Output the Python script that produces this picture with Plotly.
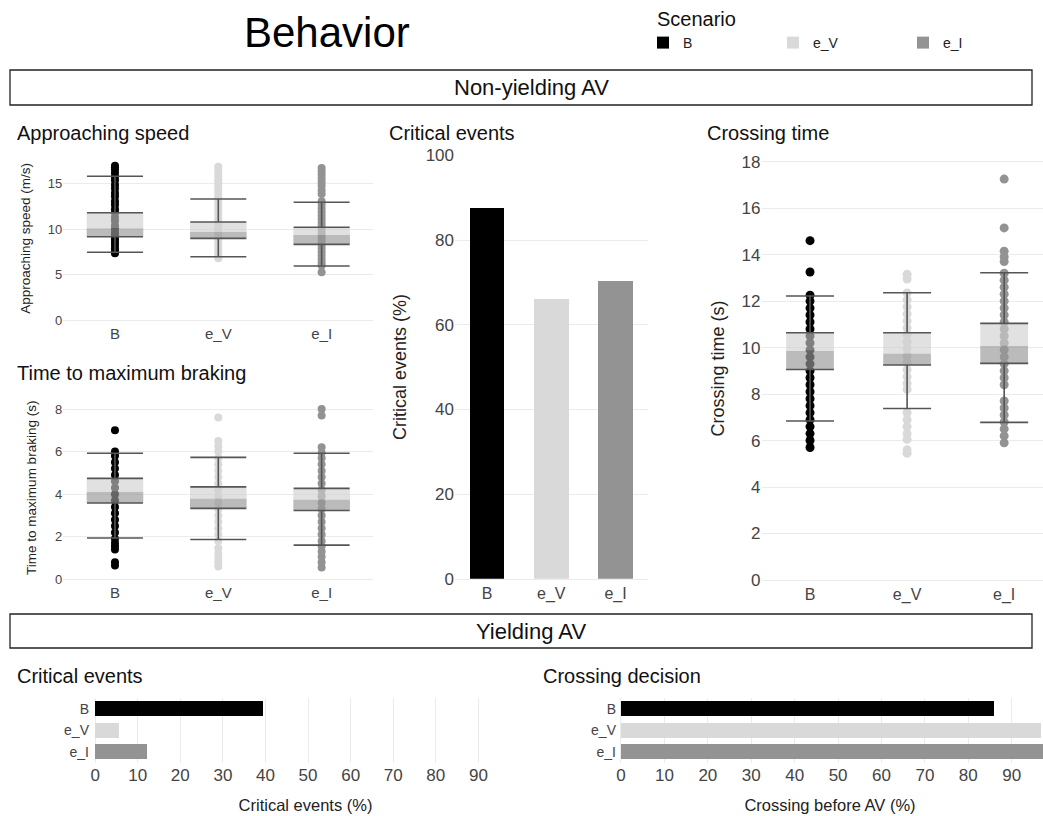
import plotly.graph_objects as go

# ---------------- data ----------------
scenarios = ["B", "e_V", "e_I"]

# Approaching speed (m/s) box statistics
speed_lower = [7.46, 6.98, 5.95]
speed_q1 = [9.18, 9.00, 8.34]
speed_median = [10.10, 9.74, 9.37]
speed_q3 = [11.83, 10.80, 10.22]
speed_upper = [15.85, 13.34, 12.98]
speed_points_B = [7.35, 7.6, 7.9, 8.3, 8.6, 8.9, 9.3, 9.6, 10.0, 10.4, 10.9, 11.3, 11.8, 12.2,
                  12.7, 13.1, 13.6, 14.0, 14.5, 14.9, 15.4, 15.8, 16.2, 16.6, 16.85, 17.0]
speed_points_eV = [6.8, 7.1, 7.5, 7.9, 8.3, 8.7, 9.1, 9.5, 9.9, 10.3, 10.7, 11.1, 11.5, 11.9,
                   12.3, 12.7, 13.1, 13.5, 13.9, 14.3, 14.7, 15.1, 15.4, 15.8, 16.2, 16.6, 16.9]
speed_points_eI = [5.25, 6.0, 6.3, 6.7, 7.1, 7.5, 7.9, 8.3, 8.7, 9.1, 9.5, 9.9, 10.3, 10.7, 11.1,
                   11.5, 11.9, 12.3, 12.7, 13.1, 13.9, 14.3, 14.8, 15.2, 15.6, 16.0, 16.4, 16.75]

# Time to maximum braking (s) box statistics
brake_lower = [1.94, 1.87, 1.60]
brake_q1 = [3.58, 3.33, 3.23]
brake_median = [4.11, 3.80, 3.75]
brake_q3 = [4.74, 4.34, 4.27]
brake_upper = [5.92, 5.73, 5.92]
brake_points_B = [0.65, 0.8, 1.4, 1.55, 1.7, 1.9, 2.2, 2.5, 2.8, 3.1, 3.4, 3.7, 4.0, 4.3, 4.6,
                  4.9, 5.2, 5.5, 5.8, 6.0, 7.0]
brake_points_eV = [0.6, 0.8, 1.0, 1.2, 1.45, 1.8, 2.1, 2.4, 2.7, 3.0, 3.3, 3.6, 3.9, 4.2, 4.5,
                   4.8, 5.1, 5.4, 5.7, 6.0, 6.25, 6.5, 7.6]
brake_points_eI = [0.55, 0.8, 1.05, 1.3, 1.55, 1.8, 2.1, 2.4, 2.7, 3.0, 3.3, 3.6, 3.9, 4.2, 4.5,
                   4.8, 5.1, 5.4, 5.7, 5.95, 6.2, 7.7, 8.0]

# Crossing time (s) box statistics
cross_lower = [6.84, 7.38, 6.78]
cross_q1 = [9.06, 9.25, 9.32]
cross_median = [9.86, 9.75, 10.08]
cross_q3 = [10.64, 10.64, 11.04]
cross_upper = [12.22, 12.36, 13.22]
cross_points_B = [5.7, 6.0, 6.3, 6.6, 6.9, 7.2, 7.5, 7.8, 8.1, 8.4, 8.7, 9.0, 9.3, 9.6, 9.9,
                  10.2, 10.5, 10.8, 11.1, 11.4, 11.7, 12.0, 12.25, 13.25, 14.6]
cross_points_eV = [5.45, 5.6, 6.05, 6.3, 6.6, 6.9, 7.2, 8.2, 8.45, 8.75, 9.05, 9.35, 9.65, 9.95,
                   10.25, 10.55, 10.85, 11.15, 11.45, 11.75, 12.05, 12.35, 12.95, 13.15]
cross_points_eI = [5.9, 6.2, 6.5, 6.8, 7.1, 7.4, 7.7, 8.4, 8.7, 9.0, 9.3, 9.6, 9.9, 10.2, 10.5,
                   10.8, 11.1, 11.4, 11.7, 12.0, 12.3, 12.6, 12.9, 13.2, 13.7, 13.9, 14.15,
                   15.15, 17.25]

# Critical events (%) - non-yielding AV
critical_nonyield = [87.6, 66.0, 70.2]
# Critical events (%) - yielding AV
critical_yield = [39.4, 5.6, 12.1]
# Crossing before AV (%) - yielding AV
crossing_before = [86.0, 96.8, 98.5]

# ---------------- styles ----------------
W, H = 1043, 816
FONT = "Liberation Sans, Arial, sans-serif"
colors = ["#000000", "#d9d9d9", "#939393"]
TICKC = "#444444"
GRID = "#ebebeb"


def px_x(p):
    return p / W


def px_y(p):
    return 1 - p / H


fig = go.Figure()


def add_box_panel(ax, stats, points, hw, cap_px, msize):
    lower, q1, med, q3, upper = stats
    xa, ya = ("x" + ax, "y" + ax) if ax != "1" else ("x", "y")
    # raw points
    for i, pts in enumerate(points):
        fig.add_trace(go.Scatter(
            x=[i] * len(pts), y=pts, mode="markers", xaxis=xa, yaxis=ya,
            marker=dict(color=colors[i], size=msize, line=dict(width=0)),
            showlegend=False, hoverinfo="y"))
    # lower half of box (q1 -> median)
    xs, ys = [], []
    for i in range(len(scenarios)):
        xs += [i - hw, i + hw, i + hw, i - hw, i - hw, None]
        ys += [q1[i], q1[i], med[i], med[i], q1[i], None]
    fig.add_trace(go.Scatter(x=xs, y=ys, fill="toself", mode="lines", xaxis=xa, yaxis=ya,
                             fillcolor="rgba(152,152,152,0.66)", line=dict(width=0),
                             showlegend=False, hoverinfo="skip"))
    # upper half of box (median -> q3)
    xs, ys = [], []
    for i in range(len(scenarios)):
        xs += [i - hw, i + hw, i + hw, i - hw, i - hw, None]
        ys += [med[i], med[i], q3[i], q3[i], med[i], None]
    fig.add_trace(go.Scatter(x=xs, y=ys, fill="toself", mode="lines", xaxis=xa, yaxis=ya,
                             fillcolor="rgba(206,206,206,0.62)", line=dict(width=0),
                             showlegend=False, hoverinfo="skip"))
    idx = list(range(len(scenarios)))
    # upper whisker + q3 line
    fig.add_trace(go.Scatter(
        x=idx, y=q3, mode="markers", xaxis=xa, yaxis=ya,
        marker=dict(size=1, color="rgba(0,0,0,0)"),
        error_y=dict(type="data", symmetric=False,
                     array=[u - q for u, q in zip(upper, q3)], arrayminus=[0] * 3,
                     width=cap_px, thickness=1.6, color="#555555"),
        showlegend=False, hoverinfo="skip"))
    # lower whisker + q1 line
    fig.add_trace(go.Scatter(
        x=idx, y=q1, mode="markers", xaxis=xa, yaxis=ya,
        marker=dict(size=1, color="rgba(0,0,0,0)"),
        error_y=dict(type="data", symmetric=False,
                     array=[0] * 3, arrayminus=[q - l for q, l in zip(q1, lower)],
                     width=cap_px, thickness=1.6, color="#555555"),
        showlegend=False, hoverinfo="skip"))


add_box_panel("1", (speed_lower, speed_q1, speed_median, speed_q3, speed_upper),
              [speed_points_B, speed_points_eV, speed_points_eI], 0.274, 28, 8)
add_box_panel("2", (brake_lower, brake_q1, brake_median, brake_q3, brake_upper),
              [brake_points_B, brake_points_eV, brake_points_eI], 0.274, 28, 8)
add_box_panel("3", (cross_lower, cross_q1, cross_median, cross_q3, cross_upper),
              [cross_points_B, cross_points_eV, cross_points_eI], 0.246, 24, 9)

# middle: critical events (non-yielding)
for i, s in enumerate(scenarios):
    fig.add_trace(go.Bar(x=[i], y=[critical_nonyield[i]], width=0.54, name=s,
                         marker=dict(color=colors[i], line=dict(width=0)),
                         xaxis="x4", yaxis="y4", showlegend=True, legendgroup=s))
# bottom left: critical events (yielding)
for i, s in enumerate(scenarios):
    fig.add_trace(go.Bar(y=[i], x=[critical_yield[i]], width=0.7, orientation="h", name=s,
                         marker=dict(color=colors[i], line=dict(width=0)),
                         xaxis="x5", yaxis="y5", showlegend=False, legendgroup=s))
# bottom right: crossing decision
for i, s in enumerate(scenarios):
    fig.add_trace(go.Bar(y=[i], x=[crossing_before[i]], width=0.7, orientation="h", name=s,
                         marker=dict(color=colors[i], line=dict(width=0)),
                         xaxis="x6", yaxis="y6", showlegend=False, legendgroup=s))


def cat_axis(domain, anchor, rng, size):
    return dict(domain=domain, anchor=anchor, range=rng, tickmode="array",
                tickvals=[0, 1, 2], ticktext=scenarios, showgrid=False, zeroline=False,
                showline=True, linecolor=GRID, ticks="", tickfont=dict(size=size, color=TICKC),
                fixedrange=True)


def val_axis(domain, anchor, rng, dtick, title, tsize, lsize, standoff):
    return dict(domain=domain, anchor=anchor, range=rng, dtick=dtick, showgrid=True,
                gridcolor=GRID, gridwidth=1, zeroline=False, showline=False, ticks="",
                tickfont=dict(size=tsize, color=TICKC),
                title=dict(text=title, font=dict(size=lsize, color="#222222"), standoff=standoff),
                fixedrange=True)


def pct_axis(domain, anchor, rng, title):
    return dict(domain=domain, anchor=anchor, range=rng,
                tickvals=[0, 10, 20, 30, 40, 50, 60, 70, 80, 90], showgrid=True, gridcolor=GRID,
                zeroline=False, ticks="", tickfont=dict(size=17, color=TICKC),
                title=dict(text=title, font=dict(size=16.5, color="#222222"), standoff=15),
                fixedrange=True)


def cat_y_axis(anchor):
    return dict(domain=[px_y(762.5), px_y(698)], anchor=anchor, range=[2.5, -0.5],
                tickmode="array", tickvals=[0, 1, 2], ticktext=scenarios, showgrid=False,
                zeroline=False, ticks="", tickfont=dict(size=14, color=TICKC), fixedrange=True)


small_x = [px_x(63.3), px_x(373.3)]
layout = dict(
    width=W, height=H, margin=dict(l=0, r=0, t=0, b=0, autoexpand=False),
    paper_bgcolor="white", plot_bgcolor="white",
    font=dict(family=FONT, color="#222222"),
    barmode="overlay", bargap=0,
    showlegend=True,
    legend=dict(orientation="h", x=px_x(643), xanchor="left", y=px_y(27), yanchor="top",
                font=dict(size=14, color="#222222"), entrywidth=85, entrywidthmode="pixels",
                bgcolor="rgba(0,0,0,0)", itemclick=False, itemdoubleclick=False),
    xaxis=cat_axis(small_x, "y", [-0.5, 2.5], 15),
    yaxis=val_axis([px_y(320), px_y(156.7)], "x", [0, 18], 5, "Approaching speed (m/s)", 13, 13.5, 14),
    xaxis2=cat_axis(small_x, "y2", [-0.5, 2.5], 15),
    yaxis2=val_axis([px_y(579.2), px_y(396.3)], "x2", [0, 8.6], 2, "Time to maximum braking (s)", 13, 13.5, 15),
    xaxis3=cat_axis([px_x(761.5), 1], "y3", [-0.5, 2.4], 16),
    yaxis3=val_axis([px_y(580), px_y(157)], "x3", [0, 18.2], 2, "Crossing time (s)", 17, 18, 12),
    xaxis4=cat_axis([px_x(455), px_x(647.6)], "y4", [-0.5, 2.5], 16),
    yaxis4=val_axis([px_y(578.8), px_y(155.3)], "x4", [0, 100], 20, "Critical events (%)", 17, 18, 14),
    xaxis5=pct_axis([px_x(90), px_x(521)], "y5", [-1.2, 100], "Critical events (%)"),
    yaxis5=cat_y_axis("x5"),
    xaxis6=pct_axis([px_x(617), 1], "y6", [-0.92, 97.2], "Crossing before AV (%)"),
    yaxis6=cat_y_axis("x6"),
)
fig.update_layout(**layout)

# strip boxes
for top, bottom, label in [(70, 105, "Non-yielding AV"), (614, 648, "Yielding AV")]:
    fig.add_shape(type="rect", xref="paper", yref="paper", x0=px_x(10), x1=px_x(1032),
                  y0=px_y(bottom), y1=px_y(top), line=dict(color="#222222", width=1.3),
                  fillcolor="white", layer="below")
    fig.add_annotation(text=label, xref="paper", yref="paper", x=px_x(531),
                       y=px_y((top + bottom) / 2), xanchor="center", yanchor="middle",
                       showarrow=False, font=dict(size=22, color="#111111"))

# main title
fig.add_annotation(text="Behavior", xref="paper", yref="paper", x=px_x(327), y=px_y(33),
                   xanchor="center", yanchor="middle", showarrow=False,
                   font=dict(size=42, color="#000000"))
# legend title
fig.add_annotation(text="Scenario", xref="paper", yref="paper", x=px_x(655), y=px_y(19),
                   xanchor="left", yanchor="middle", showarrow=False,
                   font=dict(size=20, color="#111111"))

# panel titles
for x, y, t in [(15, 133, "Approaching speed"), (15, 373, "Time to maximum braking"),
                (387, 133, "Critical events"), (705, 133, "Crossing time"),
                (15, 676, "Critical events"), (541, 676, "Crossing decision")]:
    fig.add_annotation(text=t, xref="paper", yref="paper", x=px_x(x), y=px_y(y),
                       xanchor="left", yanchor="middle", showarrow=False,
                       font=dict(size=20, color="#111111"))

fig.write_html("out.html")
